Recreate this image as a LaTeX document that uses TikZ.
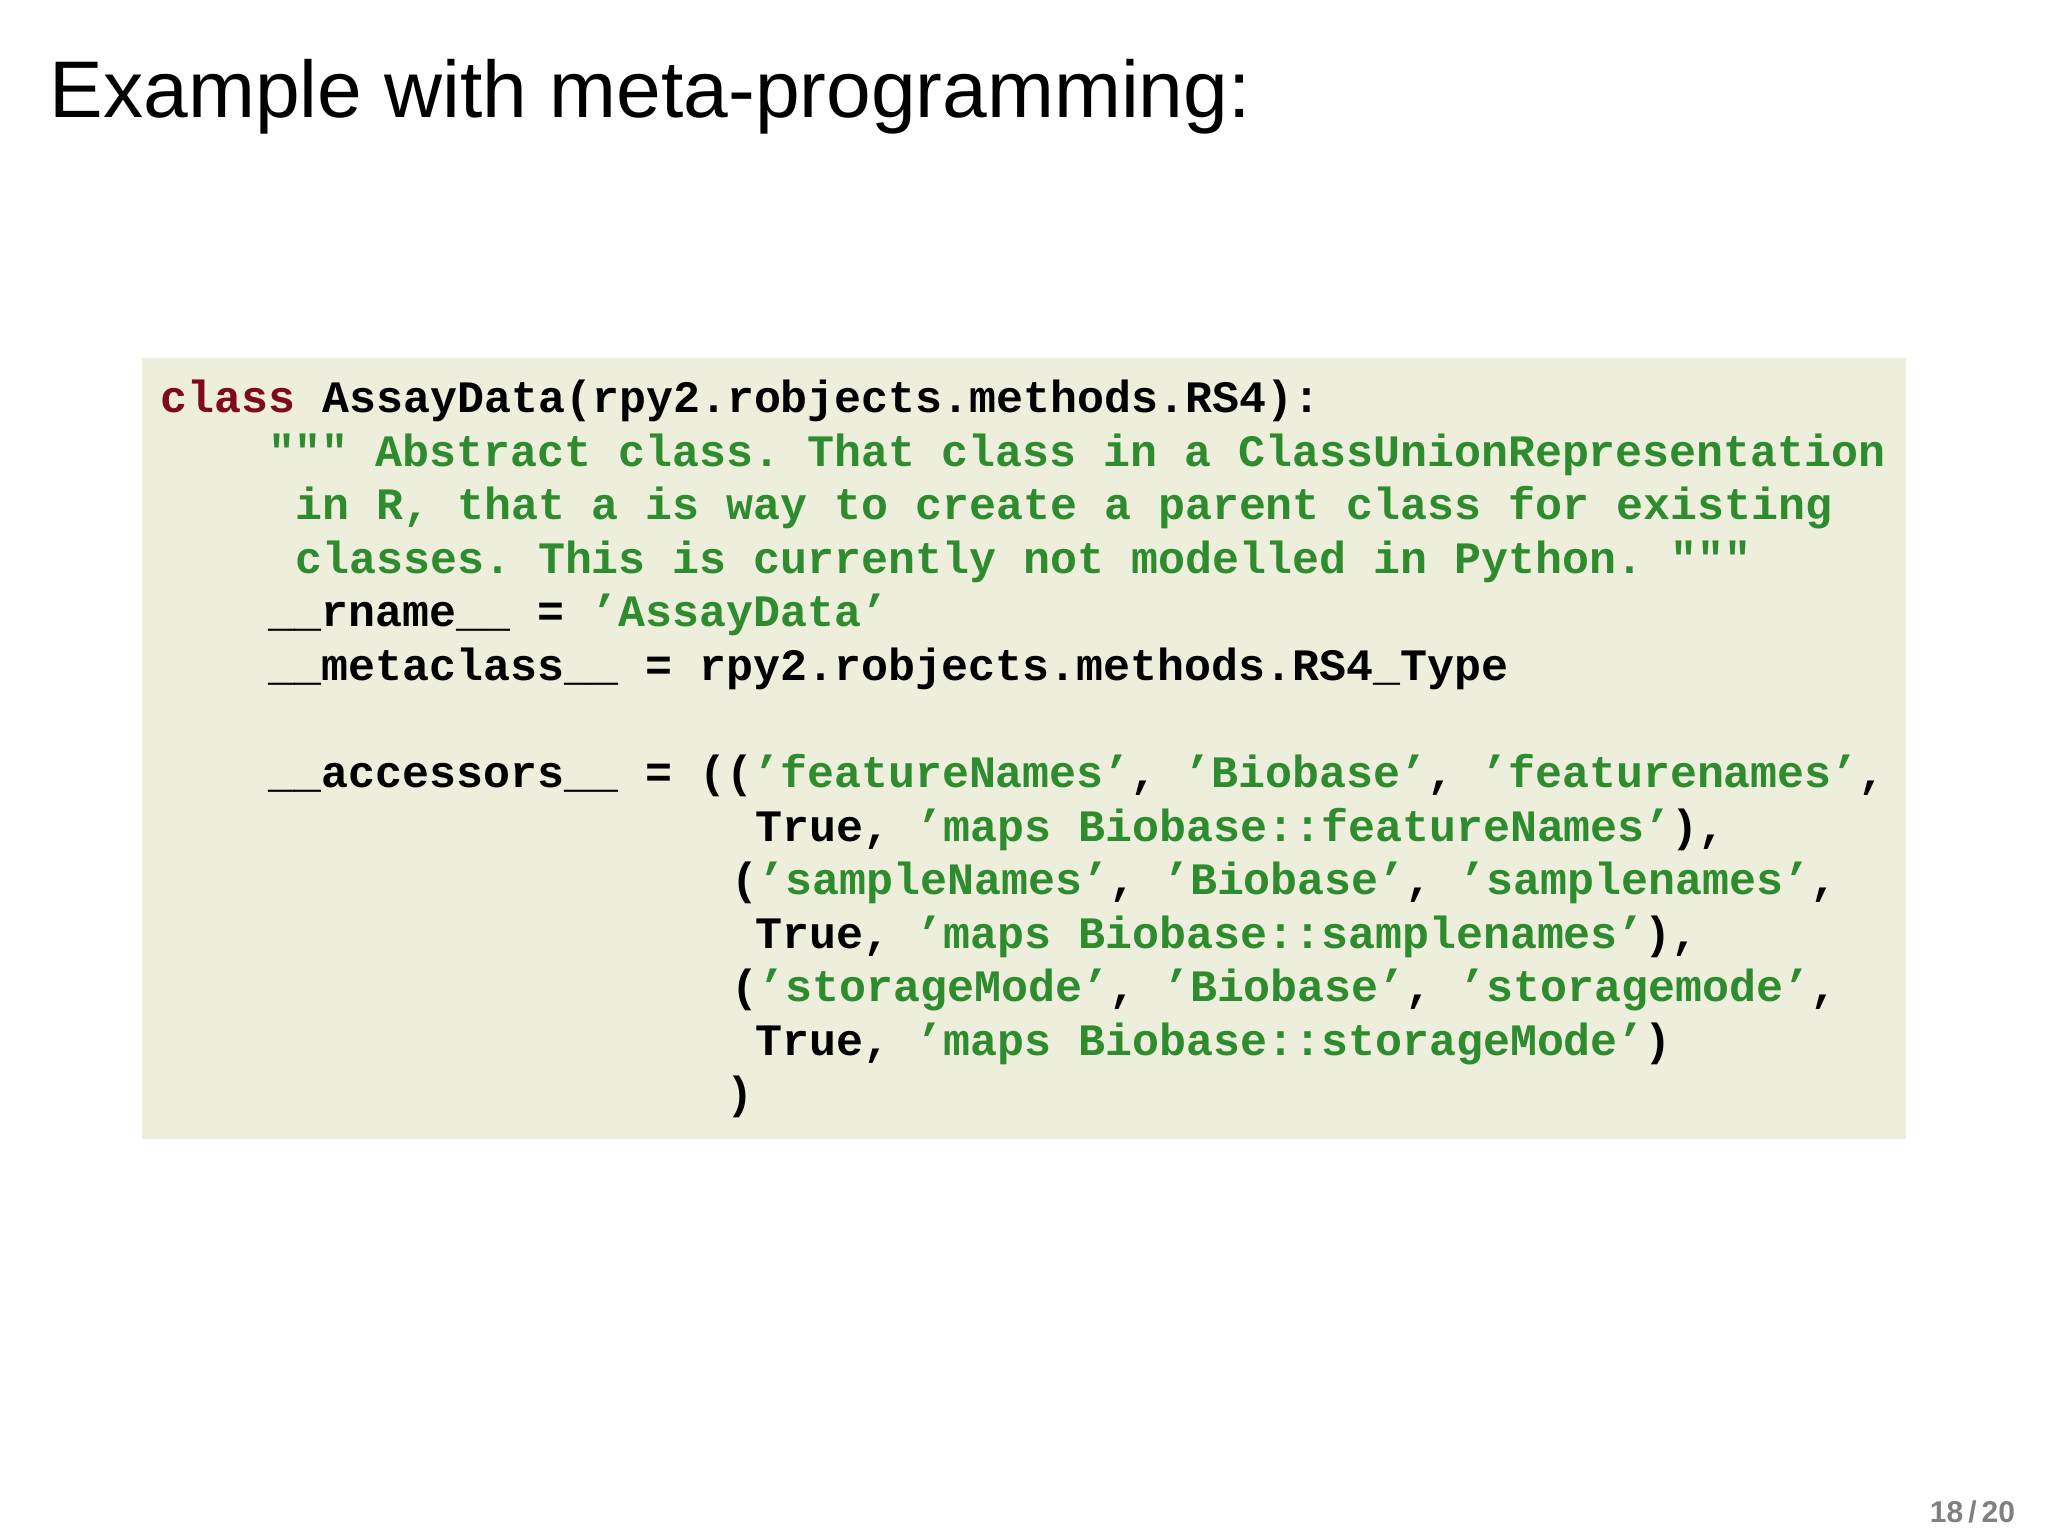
\documentclass[tikz,border=0pt]{standalone}
\usepackage{fontspec}
\setmainfont{Liberation Sans}
\setmonofont{Liberation Mono}
\definecolor{bgc}{HTML}{EEEEDD}
\definecolor{kw}{HTML}{7F0A1E}
\definecolor{st}{HTML}{2E8B2E}
\tikzset{cl/.style={anchor=base west,inner sep=0,font=\fontsize{34.4bp}{41bp}\ttfamily\bfseries}}
\newcommand{\s}[1]{\textcolor{st}{#1}}
\begin{document}
\begin{tikzpicture}[x=1bp,y=-1bp]
\useasboundingbox (0,0) rectangle (1568,1176);
\node[anchor=base west,inner sep=0,font=\fontsize{61.5bp}{70bp}\selectfont] (title) at (38,90) {Example with meta-programming:};
\fill[bgc] (109,274) rectangle (1459,872);
\node[cl] (l1) at (123,316) {\textcolor{kw}{class} AssayData(rpy2.robjects.methods.RS4):};
\node[cl] (l2) at (205,357) {\s{""" Abstract class. That class in a ClassUnionRepresentation}};
\node[cl] (l3) at (226,398) {\s{in R, that a is way to create a parent class for existing}};
\node[cl] (l4) at (226,439) {\s{classes. This is currently not modelled in Python. """}};
\node[cl] (l5) at (205,480) {\_\_rname\_\_ = \s{’AssayData’}};
\node[cl] (l6) at (205,521) {\_\_metaclass\_\_ = rpy2.robjects.methods.RS4\_Type};
\node[cl] (l7) at (205,603) {\_\_accessors\_\_ = ((\s{’featureNames’}, \s{’Biobase’}, \s{’featurenames’},};
\node[cl] (l8) at (578,644) {True, \s{’maps Biobase::featureNames’}),};
\node[cl] (l9) at (560,685) {(\s{’sampleNames’}, \s{’Biobase’}, \s{’samplenames’},};
\node[cl] (l10) at (578,726) {True, \s{’maps Biobase::samplenames’}),};
\node[cl] (l11) at (560,767) {(\s{’storageMode’}, \s{’Biobase’}, \s{’storagemode’},};
\node[cl] (l12) at (578,808) {True, \s{’maps Biobase::storageMode’})};
\node[cl] (l13) at (556,849) {)};
\node[anchor=base east,inner sep=0,font=\fontsize{23bp}{24bp}\selectfont\bfseries,text=gray] (pg) at (1543,1166) {18\,/\,20};
\end{tikzpicture}
\end{document}
